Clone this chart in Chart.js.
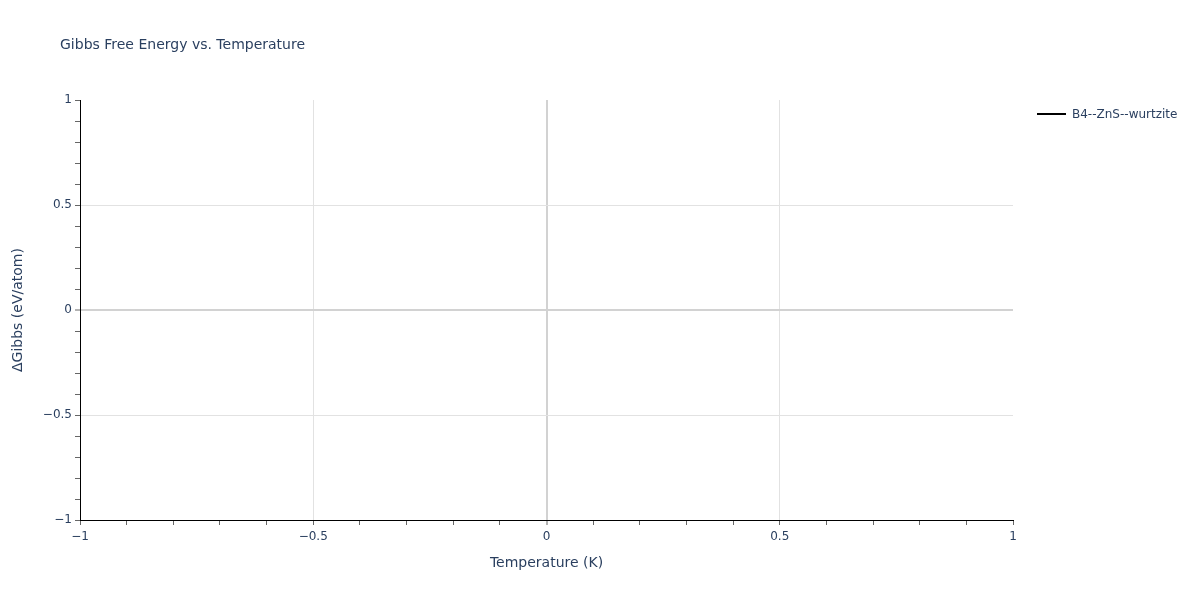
<!DOCTYPE html>
<html>
<head>
<meta charset="utf-8">
<script src="https://cdn.jsdelivr.net/npm/chart.js@4.4.1/dist/chart.umd.min.js"></script>
<style>
  html, body { margin: 0; padding: 0; background: #fff; }
  #wrap { width: 1200px; height: 600px; position: relative; }
</style>
</head>
<body>
<div id="wrap"><canvas id="c" width="1200" height="600"></canvas></div>
<script>
// ---- data ----
const chartTitle = "Gibbs Free Energy vs. Temperature";
const xAxisTitle = "Temperature (K)";
const yAxisTitle = "ΔGibbs (eV/atom)";
const seriesNames = ["B4--ZnS--wurtzite"];
const seriesColors = ["#000000"];
const seriesTemperatures = [];   // the series has no points
const seriesGibbs = [];
const xRange = [-1, 1];
const yRange = [-1, 1];
const xMajorTicks = [-1, -0.5, 0, 0.5, 1];
const yMajorTicks = [-1, -0.5, 0, 0.5, 1];
const minorStep = 0.1;

const FONT = '"DejaVu Sans", Verdana, sans-serif';
const TEXT = '#2a3f5f';

function isMajor(v, majors) {
  return majors.some(m => Math.abs(m - v) < 1e-6);
}
function fmt(v) {
  const r = Math.round(v * 10) / 10;
  const s = String(Math.abs(r));
  return (r < 0 ? '\u2212' : '') + s;
}
function gridColor(majors, range) {
  return ctx => {
    const v = ctx.tick ? ctx.tick.value : null;
    if (v === null) return 'rgba(0,0,0,0)';
    if (Math.abs(v - range[0]) < 1e-6 || Math.abs(v - range[1]) < 1e-6) return 'rgba(0,0,0,0)';
    if (Math.abs(v) < 1e-6) return '#d2d2d2';
    if (isMajor(v, majors)) return '#e2e2e2';
    return 'rgba(0,0,0,0)';
  };
}
function gridWidth(ctx) {
  const v = ctx.tick ? ctx.tick.value : null;
  return (v !== null && Math.abs(v) < 1e-6) ? 2 : 1;
}

const decor = {
  id: 'decor',
  afterDraw(chart) {
    const c = chart.ctx;
    c.save();
    c.fillStyle = TEXT;
    c.font = '14px ' + FONT;
    c.textAlign = 'left';
    c.textBaseline = 'middle';
    c.fillText(chartTitle, 60, 45);
    // legend
    chart.data.datasets.forEach((ds, i) => {
      const y = 114 + i * 20;
      c.strokeStyle = ds.borderColor;
      c.lineWidth = 2;
      c.beginPath();
      c.moveTo(1037, y);
      c.lineTo(1066, y);
      c.stroke();
      c.fillStyle = TEXT;
      c.font = '12px ' + FONT;
      c.fillText(ds.label, 1072, y + 1);
    });
    c.restore();
  }
};

const datasets = seriesNames.map((name, i) => ({
  label: name,
  data: seriesTemperatures.map((t, j) => ({ x: t, y: seriesGibbs[j] })),
  borderColor: seriesColors[i],
  backgroundColor: seriesColors[i],
  borderWidth: 2,
  showLine: true,
  pointRadius: 0
}));

new Chart(document.getElementById('c'), {
  type: 'scatter',
  data: { datasets },
  options: {
    responsive: false,
    animation: false,
    devicePixelRatio: 1,
    layout: { padding: { left: 0, top: 100, right: 187, bottom: 0 } },
    plugins: { legend: { display: false }, title: { display: false }, tooltip: { enabled: false } },
    scales: {
      x: {
        type: 'linear',
        min: xRange[0], max: xRange[1],
        afterFit(s) { s.height = 80; },
        border: { display: true, color: '#000', width: 1 },
        grid: {
          color: gridColor(xMajorTicks, xRange),
          lineWidth: gridWidth,
          drawTicks: true,
          tickLength: 5,
          tickColor: '#666',
          tickWidth: 1
        },
        ticks: {
          stepSize: minorStep,
          autoSkip: false,
          maxRotation: 0,
          padding: 5,
          color: TEXT,
          font: { family: FONT, size: 12 },
          callback: v => isMajor(v, xMajorTicks) ? fmt(v) : ''
        },
        title: {
          display: true, text: xAxisTitle, color: TEXT,
          font: { family: FONT, size: 14 },
          padding: { top: 0, bottom: 28 }
        }
      },
      y: {
        type: 'linear',
        min: yRange[0], max: yRange[1],
        afterFit(s) { s.width = 80; },
        border: { display: true, color: '#000', width: 1 },
        grid: {
          color: gridColor(yMajorTicks, yRange),
          lineWidth: gridWidth,
          drawTicks: true,
          tickLength: 5,
          tickColor: '#666',
          tickWidth: 1
        },
        ticks: {
          stepSize: minorStep,
          autoSkip: false,
          padding: 3,
          color: TEXT,
          font: { family: FONT, size: 12 },
          callback: v => isMajor(v, yMajorTicks) ? fmt(v) : ''
        },
        title: {
          display: true, text: yAxisTitle, color: TEXT,
          font: { family: FONT, size: 14 },
          padding: { top: 10, bottom: 0 }
        }
      }
    }
  },
  plugins: [decor]
});
</script>
</body>
</html>
